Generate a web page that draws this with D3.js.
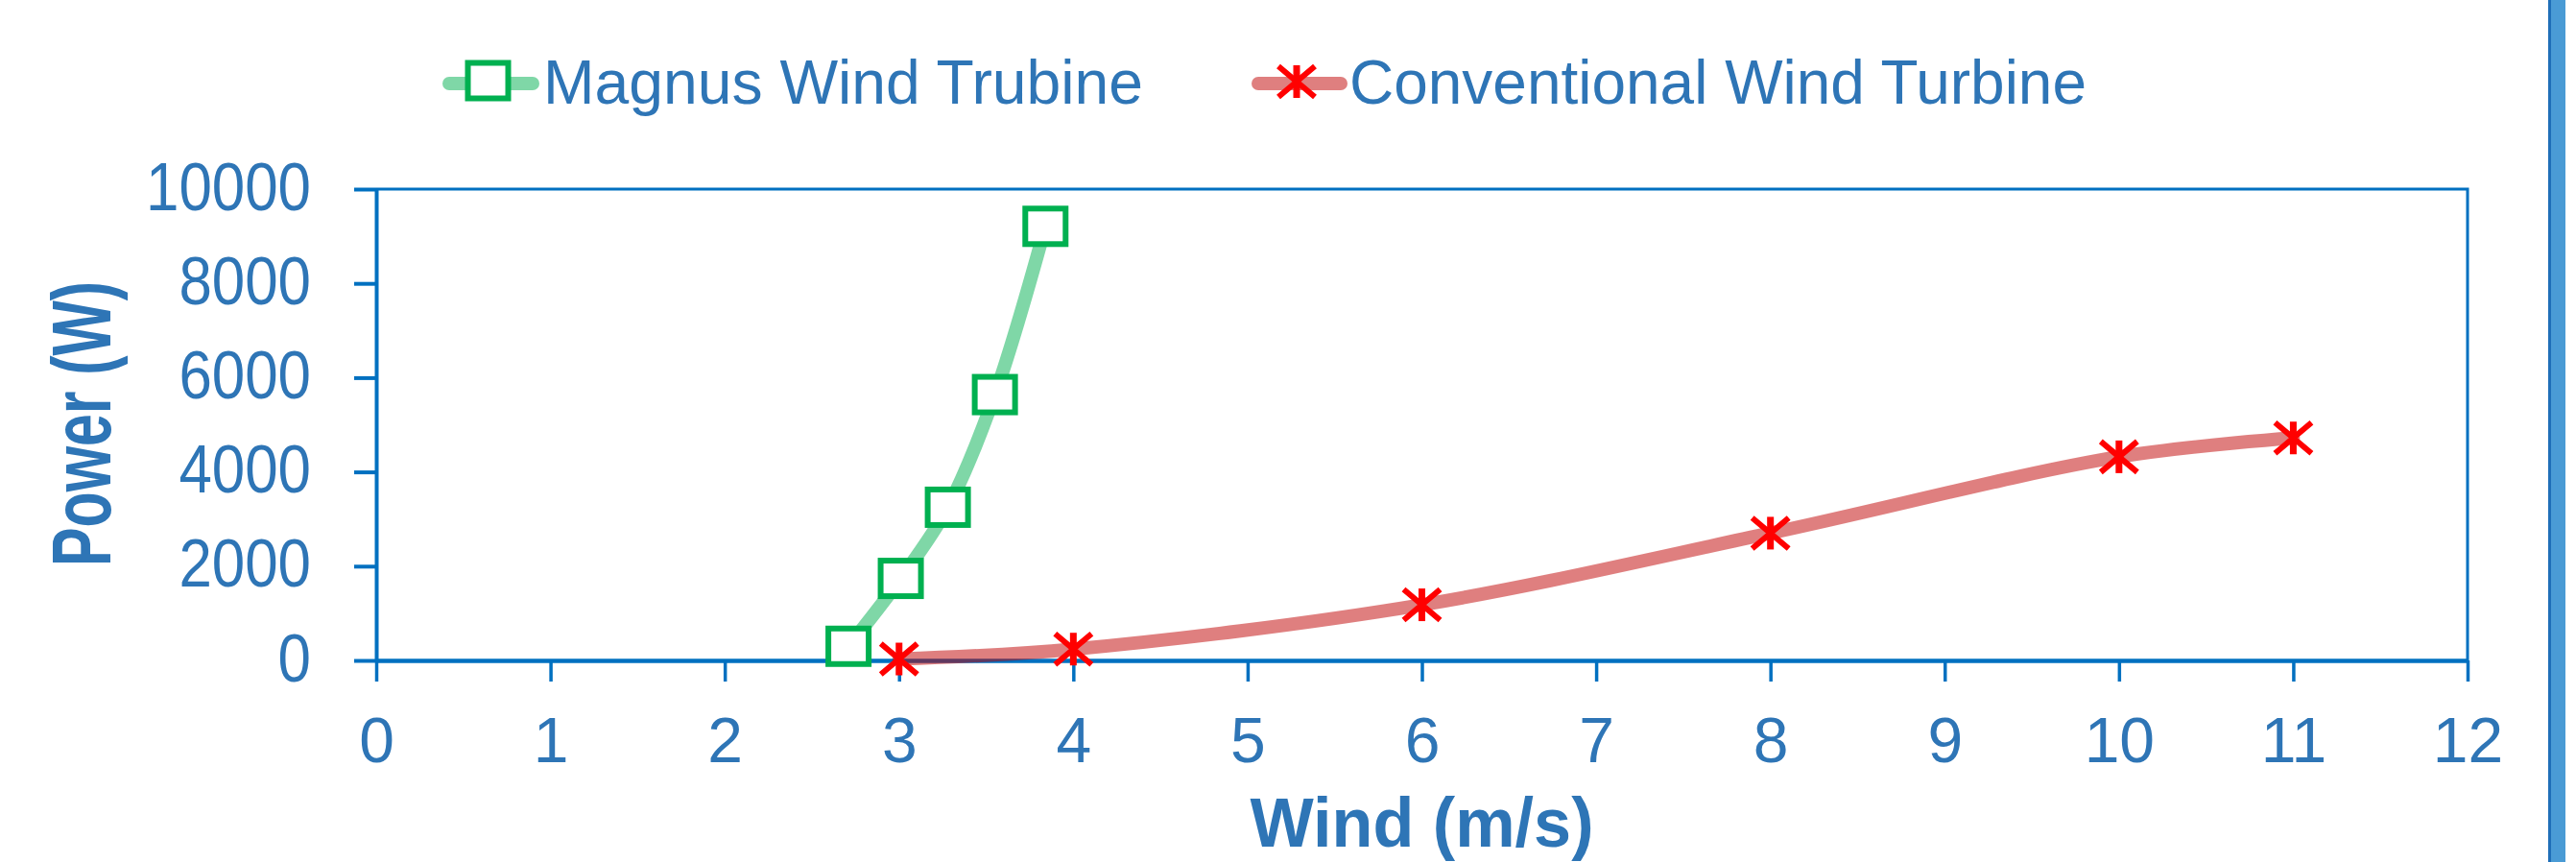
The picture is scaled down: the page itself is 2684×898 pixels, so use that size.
<!DOCTYPE html>
<html><head><meta charset="utf-8">
<script src="https://cdn.jsdelivr.net/npm/d3@7"></script>
<style>html,body{margin:0;padding:0;background:#fff;overflow:hidden}</style>
</head><body>
<svg id="c" width="2684" height="898"></svg>
<script>
// ---- data ----
const seriesNames = ["Magnus Wind Trubine", "Conventional Wind Turbine"];
const magnusWind  = [2.71, 3.01, 3.28, 3.55, 3.84];
const magnusPower = [300, 1740, 3250, 5640, 9210];
const convWind    = [3, 4, 6, 8, 10, 11];
const convPower   = [30, 240, 1180, 2700, 4320, 4720];
const xTickValues = [0, 1, 2, 3, 4, 5, 6, 7, 8, 9, 10, 11, 12];
const yTickValues = [0, 2000, 4000, 6000, 8000, 10000];
const xTitle = "Wind (m/s)";
const yTitle = "Power (W)";

// ---- layout ----
const FONT = "'Liberation Sans', Arial, sans-serif";
const AXIS = "#0070C0";
const TXT = "#2E75B6";
const GREEN = "#00B050";
const RED = "#FF0000";
const RED_LINE = "#C00000";
const L = 392, R = 2571, T = 197, B = 688;

const svg = d3.select("#c");
const x = d3.scaleLinear().domain([0, 12]).range([L, R]);
const y = d3.scaleLinear().domain([0, 10000]).range([B, T]);

// plot border (top/right)
svg.append("path")
  .attr("d", `M${L},${T} H${R} V${B}`)
  .attr("fill", "none").attr("stroke", AXIS).attr("stroke-width", 3);

// y axis
const gy = svg.append("g").attr("transform", `translate(${L},0)`)
  .call(d3.axisLeft(y).tickValues(yTickValues).tickFormat(d3.format("d"))
        .tickSize(23).tickPadding(45).tickSizeOuter(0));
gy.select(".domain").attr("stroke", AXIS).attr("stroke-width", 4);
gy.selectAll(".tick line").attr("stroke", AXIS).attr("stroke-width", 4);
gy.selectAll(".tick text")
  .attr("fill", TXT).attr("font-family", FONT).attr("font-size", 70)
  .attr("dy", "0.3em")
  .attr("textLength", d => String(d).length * 34.4)
  .attr("lengthAdjust", "spacingAndGlyphs");

// x axis
const gx = svg.append("g").attr("transform", `translate(0,${B})`)
  .call(d3.axisBottom(x).tickValues(xTickValues).tickFormat(d3.format("d"))
        .tickSize(22).tickPadding(37).tickSizeOuter(0));
gx.select(".domain").attr("stroke", AXIS).attr("stroke-width", 4.5);
gx.selectAll(".tick line").attr("stroke", AXIS).attr("stroke-width", 3.5);
gx.selectAll(".tick text")
  .attr("fill", TXT).attr("font-family", FONT).attr("font-size", 66);
gx.attr("font-family", FONT); gy.attr("font-family", FONT);

// axis titles
svg.append("text")
  .attr("x", (L + R) / 2).attr("y", 882)
  .attr("text-anchor", "middle")
  .attr("font-family", FONT).attr("font-weight", "bold").attr("font-size", 72)
  .attr("fill", TXT)
  .attr("textLength", 358).attr("lengthAdjust", "spacingAndGlyphs")
  .text(xTitle);

svg.append("text")
  .attr("transform", `translate(115,${(293 + 590) / 2}) rotate(-90)`)
  .attr("text-anchor", "middle")
  .attr("font-family", FONT).attr("font-weight", "bold").attr("font-size", 88)
  .attr("fill", TXT)
  .attr("textLength", 297).attr("lengthAdjust", "spacingAndGlyphs")
  .text(yTitle);

// lines
const line = d3.line().x(d => x(d[0])).y(d => y(d[1])).curve(d3.curveCatmullRom.alpha(0.5));
const magnus = magnusWind.map((w, i) => [w, magnusPower[i]]);
const conv = convWind.map((w, i) => [w, convPower[i]]);

svg.append("path").attr("d", line(magnus))
  .attr("fill", "none").attr("stroke", GREEN).attr("stroke-opacity", 0.5)
  .attr("stroke-width", 14).attr("stroke-linecap", "round").attr("stroke-linejoin", "round");
svg.append("path").attr("d", line(conv))
  .attr("fill", "none").attr("stroke", RED_LINE).attr("stroke-opacity", 0.5)
  .attr("stroke-width", 14).attr("stroke-linecap", "round").attr("stroke-linejoin", "round");

// markers
function square(g, cx, cy) {
  g.append("rect")
    .attr("x", cx - 21).attr("y", cy - 18.5)
    .attr("width", 42).attr("height", 37)
    .attr("fill", "#fff").attr("stroke", GREEN).attr("stroke-width", 6);
}
function star(g, cx, cy) {
  g.append("path")
    .attr("d", `M${cx - 19},${cy - 16} L${cx + 19},${cy + 16} M${cx + 19},${cy - 16} L${cx - 19},${cy + 16}`)
    .attr("stroke", RED).attr("stroke-width", 6).attr("fill", "none");
  g.append("path")
    .attr("d", `M${cx},${cy - 17} V${cy + 17}`)
    .attr("stroke", RED).attr("stroke-width", 7).attr("fill", "none");
}
const mg = svg.append("g");
magnus.forEach(d => square(mg, x(d[0]), y(d[1])));
const cg = svg.append("g");
conv.forEach(d => star(cg, x(d[0]), y(d[1])));

// legend
const lg = svg.append("g");
lg.append("line").attr("x1", 468).attr("x2", 555).attr("y1", 87).attr("y2", 87)
  .attr("stroke", GREEN).attr("stroke-opacity", 0.5).attr("stroke-width", 14).attr("stroke-linecap", "round");
square(lg, 508.5, 84);
lg.append("text").attr("x", 566).attr("y", 108)
  .attr("font-family", FONT).attr("font-size", 64).attr("fill", TXT)
  .attr("textLength", 625).attr("lengthAdjust", "spacingAndGlyphs")
  .text(seriesNames[0]);

lg.append("line").attr("x1", 1311).attr("x2", 1397).attr("y1", 87).attr("y2", 87)
  .attr("stroke", RED_LINE).attr("stroke-opacity", 0.5).attr("stroke-width", 14).attr("stroke-linecap", "round");
star(lg, 1351, 85);
lg.append("text").attr("x", 1406).attr("y", 108)
  .attr("font-family", FONT).attr("font-size", 64).attr("fill", TXT)
  .attr("textLength", 768).attr("lengthAdjust", "spacingAndGlyphs")
  .text(seriesNames[1]);

// right-edge blue bar
svg.append("rect").attr("x", 2655).attr("y", 0).attr("width", 3).attr("height", 898).attr("fill", "#1F6FB8");
svg.append("rect").attr("x", 2658).attr("y", 0).attr("width", 15).attr("height", 898).attr("fill", "#4A9BD5");
</script>
</body></html>
